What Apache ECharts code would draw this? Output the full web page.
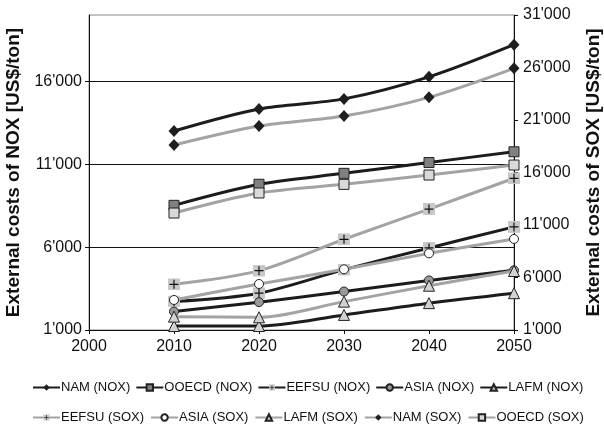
<!DOCTYPE html>
<html>
<head>
<meta charset="utf-8">
<script src="https://cdn.jsdelivr.net/npm/echarts@6/dist/echarts.min.js"></script>
<style>html,body{margin:0;padding:0;background:#fff}#c{width:604px;height:429px}</style>
</head>
<body>
<div id="c"></div>
<script>
const years = [2010, 2020, 2030, 2040, 2050];
const xTicks = [2000, 2010, 2020, 2030, 2040, 2050];
const leftTicks = [1000, 6000, 11000, 16000];
const rightTicks = [1000, 6000, 11000, 16000, 21000, 26000, 31000];

const namNox   = [13000, 14330, 14940, 16270, 18210];
const ooecdNox = [8520, 9790, 10450, 11100, 11750];
const eefsuNox = [2720, 3220, 4640, 5950, 7220];
const asiaNox  = [2110, 2680, 3320, 3990, 4600];
const lafmNox  = [1240, 1240, 1910, 2620, 3220];
const eefsuSox = [5350, 6650, 9640, 12520, 15450];
const asiaSox  = [3860, 5380, 6780, 8300, 9670];
const lafmSox  = [2270, 2210, 3700, 5220, 6620];
const namSox   = [18620, 20430, 21380, 23160, 25920];
const ooecdSox = [12140, 14050, 14870, 15760, 16710];

const FONT = "'Liberation Sans', Arial, sans-serif";
const BLACK = '#1c1c1c';
const GRAY = '#a3a3a3';
const fmt = v => { const s = String(v); return s.length > 3 ? s.slice(0, -3) + "'" + s.slice(-3) : s; };

const plusSvg = "<svg xmlns='http://www.w3.org/2000/svg' width='24' height='24' viewBox='0 0 12 12'><rect width='12' height='12' fill='#c8c8c8'/><path d='M6 1.5V10.5M1.5 6H10.5' stroke='#111' stroke-width='1.2'/></svg>";
const plusSym = 'image://data:image/svg+xml;charset=utf-8,' + encodeURIComponent(plusSvg);

function mk(name, vals, axis, color, symbol, size, fill) {
  return {
    name, type: 'line', yAxisIndex: axis, smooth: 0.3,
    data: years.map((y, i) => [y, vals[i]]),
    symbol, symbolSize: size, showSymbol: true,
    lineStyle: { color, width: 3 },
    itemStyle: { color: fill, borderColor: '#222', borderWidth: symbol.startsWith('image') || symbol === 'diamond' ? 0 : 1 },
    emphasis: { disabled: true },
    z: axis === 0 ? 2 : 3
  };
}

const series = [
  mk('NAM (NOX)', namNox, 0, BLACK, 'diamond', [11, 12], '#1e1e1e'),
  mk('OOECD (NOX)', ooecdNox, 0, BLACK, 'rect', 10, '#808080'),
  mk('EEFSU (NOX)', eefsuNox, 0, BLACK, plusSym, 12, '#c8c8c8'),
  mk('ASIA (NOX)', asiaNox, 0, BLACK, 'circle', 9, '#9a9a9a'),
  mk('LAFM (NOX)', lafmNox, 0, BLACK, 'triangle', 11, '#d2d2d2'),
  mk('EEFSU (SOX)', eefsuSox, 1, GRAY, plusSym, 12, '#c8c8c8'),
  mk('ASIA (SOX)', asiaSox, 1, GRAY, 'circle', 9, '#ffffff'),
  mk('LAFM (SOX)', lafmSox, 1, GRAY, 'triangle', 11, '#d2d2d2'),
  mk('NAM (SOX)', namSox, 1, GRAY, 'diamond', [11, 12], '#1e1e1e'),
  mk('OOECD (SOX)', ooecdSox, 1, GRAY, 'rect', 10, '#d9d9d9')
];

const legendText = { fontFamily: FONT, fontSize: 13, color: '#111', padding: [0, 0, 0, -4] };
const chart = echarts.init(document.getElementById('c'), null, { renderer: 'canvas' });
chart.setOption({
  animation: false,
  backgroundColor: '#fff',
  grid: { left: 89, right: 90, top: 15, bottom: 99, outerBoundsMode: 'none', containLabel: false, show: true, borderColor: '#888', borderWidth: 1 },
  legend: [
    { data: series.slice(0, 5).map(s => s.name), left: 27, top: 376, itemWidth: 27, itemHeight: 8, itemGap: 5, textStyle: legendText, selectedMode: false },
    { data: series.slice(5).map(s => s.name), left: 27, top: 406, itemWidth: 27, itemHeight: 8, itemGap: 6, textStyle: legendText, selectedMode: false }
  ],
  xAxis: {
    type: 'value', min: 2000, max: 2050, interval: 10,
    axisLine: { show: true, lineStyle: { color: '#111', width: 1 } },
    axisTick: { show: true, length: 4, lineStyle: { color: '#111' } },
    axisLabel: { fontFamily: FONT, fontSize: 16, color: '#111', margin: 9, formatter: v => String(v), customValues: xTicks },
    splitLine: { show: false }
  },
  yAxis: [
    {
      type: 'value', min: 1000, max: 20000, position: 'left',
      name: 'External costs of NOX [US$/ton]', nameLocation: 'middle', nameRotate: 90, nameGap: 61,
      nameTextStyle: { fontFamily: FONT, fontSize: 19, fontWeight: 'bold', color: '#111' },
      axisLine: { show: true, lineStyle: { color: '#111', width: 1 } },
      axisTick: { show: true, length: 4, lineStyle: { color: '#111' }, customValues: leftTicks },
      axisLabel: { fontFamily: FONT, fontSize: 16, color: '#111', margin: 7, formatter: fmt, customValues: leftTicks },
      splitLine: { show: true, lineStyle: { color: '#111', width: 1 } }
    },
    {
      type: 'value', min: 1000, max: 31000, position: 'right',
      name: 'External costs of SOX [US$/ton]', nameLocation: 'middle', nameRotate: 90, nameGap: 70,
      nameTextStyle: { fontFamily: FONT, fontSize: 19, fontWeight: 'bold', color: '#111' },
      axisLine: { show: true, lineStyle: { color: '#111', width: 1 } },
      axisTick: { show: true, length: 4, lineStyle: { color: '#111' }, customValues: rightTicks },
      axisLabel: { fontFamily: FONT, fontSize: 16, color: '#111', margin: 9, formatter: fmt, customValues: rightTicks },
      splitLine: { show: false }
    }
  ],
  series
});
</script>
</body>
</html>
